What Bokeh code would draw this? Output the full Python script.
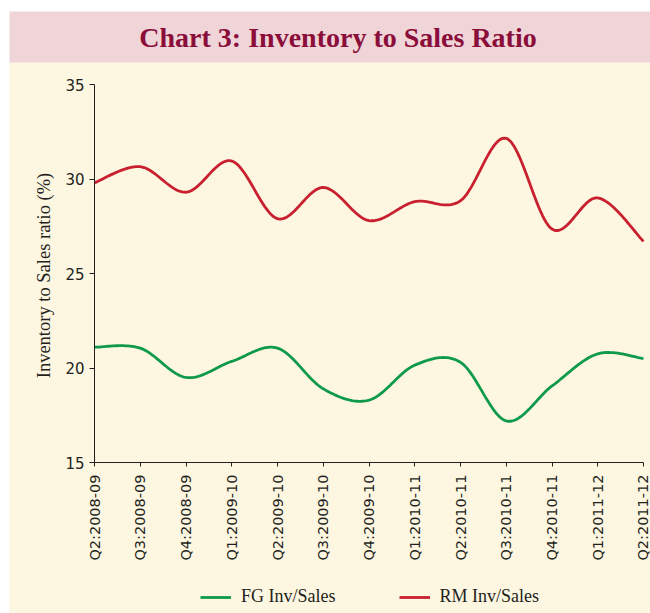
import math
import numpy as np
from bokeh.plotting import figure
from bokeh.models import Range1d, FixedTicker, Legend, LegendItem, Label, BoxAnnotation
from bokeh.embed import file_html
from bokeh.resources import INLINE

# ---- data ----
categories = ["Q2:2008-09", "Q3:2008-09", "Q4:2008-09", "Q1:2009-10", "Q2:2009-10",
              "Q3:2009-10", "Q4:2009-10", "Q1:2010-11", "Q2:2010-11", "Q3:2010-11",
              "Q4:2010-11", "Q1:2011-12", "Q2:2011-12"]
fg_inv_sales = [21.1, 21.05, 19.5, 20.35, 21.05, 18.9, 18.3, 20.15, 20.3, 17.2, 19.05, 20.75, 20.5]
rm_inv_sales = [29.8, 30.65, 29.3, 30.95, 27.9, 29.55, 27.8, 28.8, 28.85, 32.15, 27.35, 29.0, 26.7]
y_ticks = [15, 20, 25, 30, 35]
title_text = "Chart 3: Inventory to Sales Ratio"
y_title = "Inventory to Sales ratio (%)"

# ---- styles ----
CREAM = "#fdf6e1"
PINK = "#efd5d8"
TITLE_COL = "#8b0e3a"
RED = "#c8202e"
GREEN = "#0e9a4a"
INK = "#231f20"

# ---- layout (pixels) ----
W, H = 650, 613
AX_LEFT, AX_RIGHT, AX_TOP, AX_BOTTOM = 94, 643, 84, 462

n = len(categories)
y_lo, y_hi = y_ticks[0], y_ticks[-1]
px_per_x = (AX_RIGHT - AX_LEFT) / (n - 1)
px_per_y = (AX_BOTTOM - AX_TOP) / (y_hi - y_lo)
x_start = 0 - AX_LEFT / px_per_x
x_end = (n - 1) + (W - AX_RIGHT) / px_per_x
y_end = y_hi + AX_TOP / px_per_y
y_start = y_lo - (H - AX_BOTTOM) / px_per_y


def X(px):
    return x_start + px / px_per_x


def Y(py):
    return y_end - py / px_per_y


def smooth(xs, ys, steps=24):
    """Catmull-Rom style smoothing (like spreadsheet smoothed lines)."""
    xs = list(map(float, xs)); ys = list(map(float, ys))
    m = len(xs)
    px = [xs[0]] + xs + [xs[-1]]
    py = [ys[0]] + ys + [ys[-1]]
    outx, outy = [], []
    for i in range(m - 1):
        p0x, p1x, p2x, p3x = px[i], px[i + 1], px[i + 2], px[i + 3]
        p0y, p1y, p2y, p3y = py[i], py[i + 1], py[i + 2], py[i + 3]
        b1x = p1x + (p2x - p0x) / 6.0
        b1y = p1y + (p2y - p0y) / 6.0
        b2x = p2x - (p3x - p1x) / 6.0
        b2y = p2y - (p3y - p1y) / 6.0
        t = np.linspace(0, 1, steps, endpoint=(i == m - 2))
        mt = 1 - t
        outx.extend(mt**3 * p1x + 3 * mt**2 * t * b1x + 3 * mt * t**2 * b2x + t**3 * p2x)
        outy.extend(mt**3 * p1y + 3 * mt**2 * t * b1y + 3 * mt * t**2 * b2y + t**3 * p2y)
    return outx, outy


xs = list(range(n))

p = figure(width=W, height=H, x_range=Range1d(x_start, x_end), y_range=Range1d(y_start, y_end),
           toolbar_location=None, output_backend="svg",
           min_border_left=0, min_border_right=0, min_border_top=0, min_border_bottom=0)
p.background_fill_color = "white"
p.border_fill_color = "white"
p.outline_line_color = None
p.grid.visible = False

# backgrounds: cream chart area and pink title band
p.add_layout(BoxAnnotation(left=X(9), right=X(W), top=Y(62), bottom=Y(H),
                           fill_color=CREAM, fill_alpha=1.0, line_color=None, level="underlay"))
p.add_layout(BoxAnnotation(left=X(9), right=X(W), top=Y(11), bottom=Y(62),
                           fill_color=PINK, fill_alpha=1.0, line_color=None, level="underlay"))
p.add_layout(Label(x=X(337.5), y=Y(37), text=title_text,
                   text_align="center", text_baseline="middle",
                   text_font="Liberation Serif", text_font_style="bold",
                   text_font_size="28px", text_color=TITLE_COL))
p.add_layout(Label(x=X(43), y=Y(275), text=y_title, angle=math.pi / 2,
                   text_align="center", text_baseline="middle",
                   text_font="Liberation Serif", text_font_size="18.5px", text_color=INK))

fx, fy = smooth(xs, fg_inv_sales)
rx, ry = smooth(xs, rm_inv_sales)
r_fg = p.line(fx, fy, line_color=GREEN, line_width=2.8)
r_rm = p.line(rx, ry, line_color=RED, line_width=2.8)

xa = p.xaxis[0]
xa.fixed_location = y_lo
xa.bounds = (0, n - 1)
xa.ticker = FixedTicker(ticks=xs)
xa.major_label_overrides = {i: c for i, c in enumerate(categories)}
xa.major_label_orientation = math.pi / 2
xa.minor_tick_line_color = None
xa.major_tick_out = 4
xa.major_tick_in = 0
xa.major_label_standoff = 8
xa.axis_line_color = INK
xa.major_tick_line_color = INK
xa.major_label_text_font = "DejaVu Sans"
xa.major_label_text_font_size = "14.5px"
xa.major_label_text_color = INK

ya = p.yaxis[0]
ya.fixed_location = 0
ya.bounds = (y_lo, y_hi)
ya.ticker = FixedTicker(ticks=y_ticks)
ya.minor_tick_line_color = None
ya.major_tick_out = 5
ya.major_tick_in = 0
ya.major_label_standoff = 5
ya.axis_line_color = INK
ya.major_tick_line_color = INK
ya.major_label_text_font = "DejaVu Sans"
ya.major_label_text_font_size = "15px"
ya.major_label_text_color = INK

legend = Legend(items=[LegendItem(label="FG Inv/Sales", renderers=[r_fg]),
                       LegendItem(label="RM Inv/Sales", renderers=[r_rm])],
                orientation="horizontal", location=(200, 6),
                glyph_width=31, glyph_height=20, label_standoff=10, spacing=63,
                padding=0, margin=0,
                label_text_font="Liberation Serif", label_text_font_size="18px",
                label_text_color=INK, background_fill_alpha=0, border_line_color=None)
p.add_layout(legend, "center")

open("out.html", "w").write(file_html(p, INLINE))
